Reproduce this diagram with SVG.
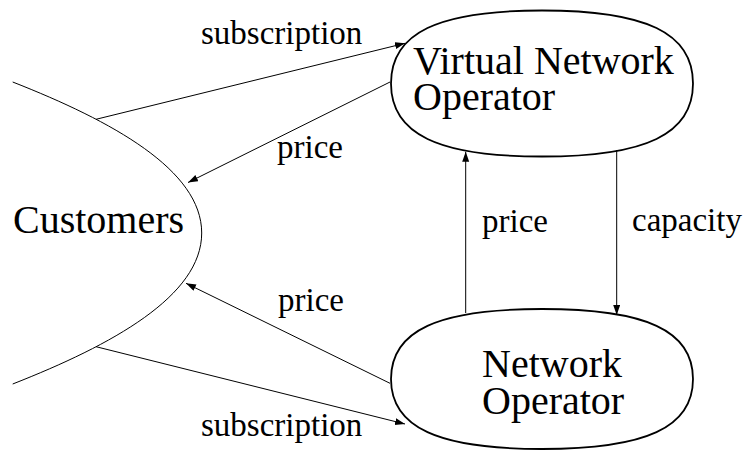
<svg xmlns="http://www.w3.org/2000/svg" width="744" height="460" viewBox="0 0 744 460">
  <defs>
    <marker id="tip" markerUnits="userSpaceOnUse" markerWidth="11" markerHeight="8" refX="10" refY="3.5" orient="auto">
      <path d="M0,0 L10,3.5 L0,7 Z" fill="#000"/>
    </marker>
  </defs>
  <rect width="744" height="460" fill="#fff"/>

  <!-- customers: open arc on the left edge -->
  <g id="customers">
    <path d="M12.7,82 C112,121 201.7,170 201.7,233 C201.7,296 112,345 12.7,384" fill="none" stroke="#000" stroke-width="1"/>
    <text x="13" y="233" font-family="Liberation Serif" font-size="40">Customers</text>
  </g>

  <!-- virtual network operator -->
  <g id="vno">
    <path d="M391,83.5 C391,33 438,10.5 542,10.5 C646,10.5 693,33 693,83.5 C693,134 646,156.5 542,156.5 C438,156.5 391,134 391,83.5 Z" fill="#fff" stroke="#000" stroke-width="1.8"/>
    <text font-family="Liberation Serif" font-size="40"><tspan x="413" y="73.5">Virtual Network</tspan><tspan x="413" y="110">Operator</tspan></text>
  </g>

  <!-- network operator -->
  <g id="no">
    <path d="M391,379 C391,330.5 438,309 542,309 C646,309 693,330.5 693,379 C693,427.5 646,449 542,449 C438,449 391,427.5 391,379 Z" fill="#fff" stroke="#000" stroke-width="1.8"/>
    <text font-family="Liberation Serif" font-size="40"><tspan x="482" y="377">Network</tspan><tspan x="482" y="413.5">Operator</tspan></text>
  </g>

  <!-- connectors: shared stroke and arrowhead set on the group -->
  <g id="edges" fill="none" stroke="#000" stroke-width="1" marker-end="url(#tip)">
    <line x1="96" y1="119.3" x2="405" y2="43.3"/>
    <line x1="390" y1="82" x2="188" y2="182.5"/>
    <line x1="390" y1="383.3" x2="186" y2="283.3"/>
    <line x1="96" y1="346.7" x2="405" y2="424"/>
    <line x1="465.7" y1="313" x2="465.7" y2="151.7"/>
    <line x1="616.7" y1="150" x2="616.7" y2="315"/>
  </g>

  <!-- connector labels -->
  <g id="labels" font-family="Liberation Serif" font-size="33">
    <text x="201" y="44">subscription</text>
    <text x="277" y="158">price</text>
    <text x="482" y="232">price</text>
    <text x="632" y="231">capacity</text>
    <text x="278" y="311">price</text>
    <text x="201" y="436">subscription</text>
  </g>
</svg>
